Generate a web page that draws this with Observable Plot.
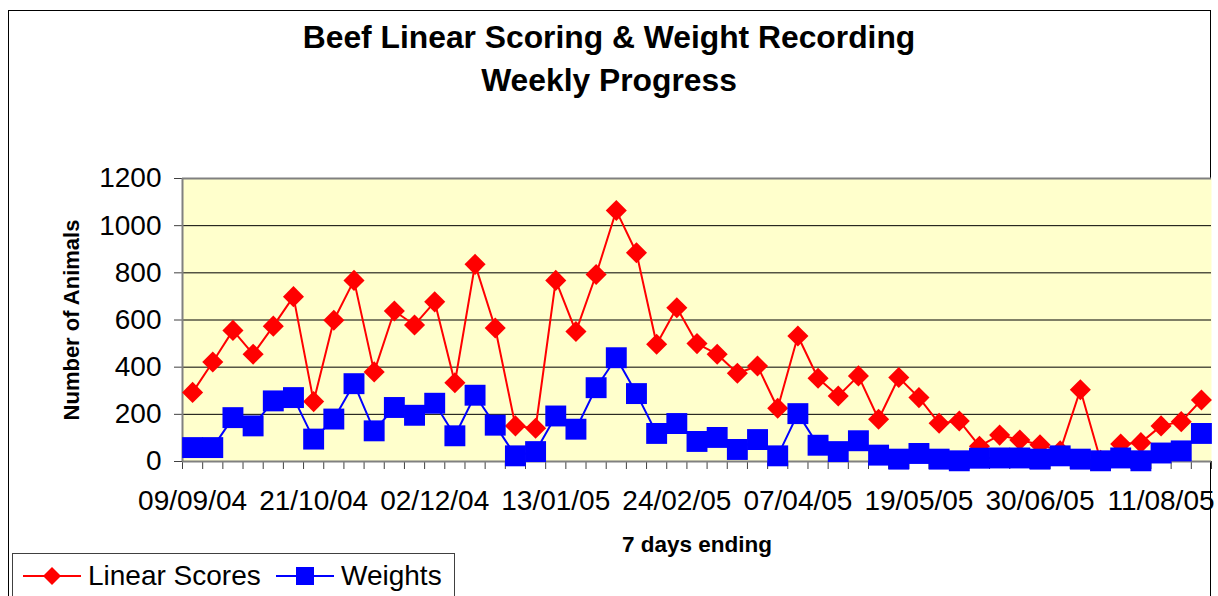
<!DOCTYPE html>
<html>
<head>
<meta charset="utf-8">
<script src="https://cdn.jsdelivr.net/npm/d3@7"></script>
<script src="https://cdn.jsdelivr.net/npm/@observablehq/plot@0.6"></script>
<style>
  html, body { margin: 0; padding: 0; background: #fff; }
  body { font-family: "Liberation Sans", Arial, sans-serif; }
  #wrap { position: relative; width: 1218px; height: 596px; overflow: hidden; background: #fff; }
  #frame { position: absolute; left: 8px; top: 10px; width: 1203px; height: 640px; border: 1px solid #000; box-sizing: border-box; }
  #chart { position: absolute; left: 0; top: 0; }
  .title { position: absolute; left: 0; width: 1218px; text-align: center; font-weight: bold; font-size: 31.8px; line-height: 32px; color: #000; white-space: nowrap; }
  #legend { position: absolute; left: 12px; top: 553px; width: 443px; height: 60px; border: 1px solid #404040; box-sizing: border-box; background: #fff; }
  #legend .item { position: absolute; top: 0; height: 40px; font-size: 28px; line-height: 28px; color: #000; }
  #legend svg { position: absolute; top: 0; }
  #legend span { position: absolute; top: 8px; white-space: nowrap; }
</style>
</head>
<body>
<div id="wrap">
  <div id="frame"></div>
  <div id="chart"></div>
  <div class="title" style="top:21px;">Beef Linear Scoring &amp; Weight Recording</div>
  <div class="title" style="top:64px;">Weekly Progress</div>
  <div id="legend"></div>
</div>
<script>
// ---- data ----
const weeks = [
  "09/09/04","16/09/04","23/09/04","30/09/04","07/10/04","14/10/04","21/10/04","28/10/04",
  "04/11/04","11/11/04","18/11/04","25/11/04","02/12/04","09/12/04","16/12/04","23/12/04",
  "30/12/04","06/01/05","13/01/05","20/01/05","27/01/05","03/02/05","10/02/05","17/02/05",
  "24/02/05","03/03/05","10/03/05","17/03/05","24/03/05","31/03/05","07/04/05","14/04/05",
  "21/04/05","28/04/05","05/05/05","12/05/05","19/05/05","26/05/05","02/06/05","09/06/05",
  "16/06/05","23/06/05","30/06/05","07/07/05","14/07/05","21/07/05","28/07/05","04/08/05",
  "11/08/05","18/08/05","25/08/05"
];
const tickLabels = ["09/09/04","21/10/04","02/12/04","13/01/05","24/02/05","07/04/05","19/05/05","30/06/05","11/08/05"];
const linearScores = [
  293, 422, 556, 455, 574, 699, 254, 599, 768, 380, 638, 579, 677, 334, 836, 566,
  151, 141, 768, 551, 793, 1064, 885, 497, 652, 500, 455, 374, 405, 226, 532, 353,
  278, 363, 179, 356, 271, 162, 172, 65, 112, 91, 71, 45, 304, 5, 74, 80,
  151, 169, 261
];
const weights = [
  59, 59, 186, 151, 257, 271, 95, 180, 330, 130, 229, 196, 247, 109, 281, 154,
  24, 42, 193, 137, 313, 440, 288, 119, 161, 85, 102, 51, 93, 24, 203, 69,
  42, 88, 27, 10, 34, 10, 3, 14, 15, 15, 10, 24, 10, 3, 15, 3,
  36, 45, 119
];
const yTicks = [0, 200, 400, 600, 800, 1000, 1200];
const seriesNames = ["Linear Scores", "Weights"];
const seriesColors = ["#FF0000", "#0000FF"];

// ---- build ----
const idx = weeks.map((_, i) => i);
const boundaries = d3.range(-0.5, weeks.length, 1);
const labelIdx = tickLabels.map(t => weeks.indexOf(t));
const red = idx.map(i => ({i, v: linearScores[i]}));
const blue = idx.map(i => ({i, v: weights[i]}));

const font = '"Liberation Sans", Arial, sans-serif';
const chart = Plot.plot({
  width: 1218,
  height: 596,
  marginLeft: 182,
  marginRight: 7,
  marginTop: 178,
  marginBottom: 135,
  style: { fontFamily: font, fontSize: "28px", color: "#000", background: "transparent", overflow: "visible" },
  x: { type: "linear", domain: [-0.5, weeks.length - 0.5] },
  y: { domain: [0, 1200] },
  marks: [
    Plot.frame({ fill: "#FFFFCC", stroke: "none" }),
    Plot.gridY(yTicks, { stroke: "#000", strokeOpacity: 1, strokeWidth: 1 }),
    Plot.ruleY([1200], { stroke: "#808080", strokeWidth: 2 }),
    Plot.axisY({ ticks: yTicks, tickSize: 8, tickPadding: 13, fontSize: 28, tickFormat: d => String(d), stroke: "#404040", label: null }),
    Plot.axisX({ ticks: boundaries, tickSize: 8, tickFormat: () => "", stroke: "#404040", label: null }),
    Plot.axisX({ ticks: labelIdx, tickSize: 0, tickPadding: 29, fontSize: 28, tickFormat: i => weeks[i], label: null }),
    Plot.ruleX([-0.5], { stroke: "#808080", strokeWidth: 2 }),
    Plot.ruleY([0], { stroke: "#808080", strokeWidth: 2 }),
    Plot.text(["Number of Animals"], { frameAnchor: "left", textAnchor: "middle", dx: -111, rotate: -90, fontSize: 22, fontWeight: "bold", fill: "#000" }),
    Plot.text(["7 days ending"], { frameAnchor: "bottom", dy: 90, fontSize: 22.5, fontWeight: "bold", fill: "#000" }),
    Plot.line(red, { x: "i", y: "v", stroke: seriesColors[0], strokeWidth: 2 }),
    Plot.dot(red, { x: "i", y: "v", symbol: "diamond2", r: 9.5, fill: seriesColors[0], stroke: "none" }),
    Plot.line(blue, { x: "i", y: "v", stroke: seriesColors[1], strokeWidth: 2 }),
    Plot.dot(blue, { x: "i", y: "v", symbol: "square", r: 11.8, fill: seriesColors[1], stroke: "none" })
  ]
});
document.getElementById("chart").appendChild(chart);

// ---- legend ----
const legend = document.getElementById("legend");
const legendItems = [
  { name: seriesNames[0], color: seriesColors[0], shape: "diamond", x: 9 },
  { name: seriesNames[1], color: seriesColors[1], shape: "square", x: 262 }
];
for (const it of legendItems) {
  const sw = d3.create("svg").attr("width", 62).attr("height", 40).style("left", it.x + "px");
  sw.append("line").attr("x1", 1).attr("x2", 59).attr("y1", 22).attr("y2", 22).attr("stroke", it.color).attr("stroke-width", 2);
  if (it.shape === "diamond") {
    sw.append("path").attr("d", "M30,13L39,22L30,31L21,22Z").attr("fill", it.color);
  } else {
    sw.append("rect").attr("x", 21).attr("y", 13).attr("width", 18).attr("height", 18).attr("fill", it.color);
  }
  const item = document.createElement("div");
  item.className = "item";
  item.style.left = "0px";
  item.appendChild(sw.node());
  const sp = document.createElement("span");
  sp.textContent = it.name;
  sp.style.left = (it.x + 66) + "px";
  item.appendChild(sp);
  legend.appendChild(item);
}
</script>
</body>
</html>
